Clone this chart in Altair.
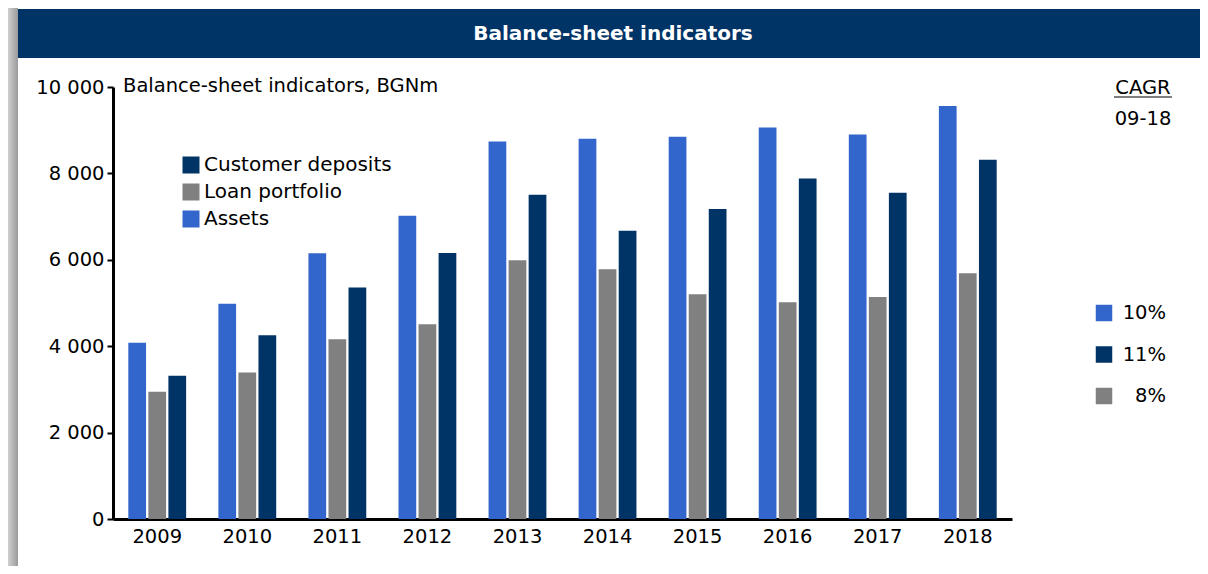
import altair as alt
import pandas as pd

years = ["2009", "2010", "2011", "2012", "2013", "2014", "2015", "2016", "2017", "2018"]
assets = [4080, 4980, 6150, 7020, 8740, 8800, 8850, 9060, 8900, 9560]
loans = [2945, 3390, 4160, 4510, 5990, 5780, 5200, 5020, 5140, 5690]
deposits = [3315, 4255, 5360, 6160, 7505, 6670, 7175, 7880, 7550, 8315]

series_names = ["Assets", "Loan portfolio", "Customer deposits"]
legend_order = ["Customer deposits", "Loan portfolio", "Assets"]
legend_colors = ["#003366", "#808080", "#3366CC"]

cagr_series = ["Assets", "Customer deposits", "Loan portfolio"]
cagr_labels = ["10%", "11%", "8%"]

FONT = "DejaVu Sans"
FS = 19.5

rows = []
for i, y in enumerate(years):
    for name, vals in zip(series_names, [assets, loans, deposits]):
        rows.append({"year": y, "series": name, "value": vals[i]})
df = pd.DataFrame(rows)

cagr_df = pd.DataFrame({"series": cagr_series, "label": cagr_labels})

color = alt.Color(
    "series:N",
    scale=alt.Scale(domain=legend_order, range=legend_colors),
    legend=alt.Legend(
        title=None,
        orient="none",
        legendX=68,
        legendY=68,
        symbolType="square",
        symbolSize=289,
        symbolStrokeWidth=0,
        labelFontSize=20,
        labelFont=FONT,
        labelColor="black",
        labelOffset=3,
        labelLimit=0,
        rowPadding=7,
        padding=0,
    ),
)

bars = alt.Chart(df).mark_bar().encode(
    x=alt.X(
        "year:N",
        sort=years,
        scale=alt.Scale(paddingInner=0.358, paddingOuter=0.17),
        axis=alt.Axis(
            title=None, labelAngle=0, labelFontSize=FS, labelFont=FONT, labelColor="black",
            ticks=False, labelPadding=8, domainColor="black", domainWidth=3,
        ),
    ),
    xOffset=alt.XOffset("series:N", sort=series_names, scale=alt.Scale(paddingInner=0.115)),
    y=alt.Y(
        "value:Q",
        scale=alt.Scale(domain=[0, 10000], nice=False),
        axis=alt.Axis(
            title=None, values=[0, 2000, 4000, 6000, 8000, 10000], grid=False,
            labelFontSize=FS, labelFont=FONT, labelColor="black", labelPadding=3,
            tickColor="black", tickWidth=2, tickSize=6,
            domainColor="black", domainWidth=3,
            labelExpr="replace(format(datum.value, ','), ',', ' ')",
        ),
    ),
    color=color,
)

one = alt.Data(values=[{}])

shadow = alt.Chart(one).mark_rect(
    color=alt.Gradient(
        gradient="linear",
        stops=[alt.GradientStop(color="#d0d0d0", offset=0), alt.GradientStop(color="#9a9a9a", offset=1)],
        x1=0, x2=1, y1=0, y2=0,
    )
).encode(x=alt.value(-105), x2=alt.value(-95), y=alt.value(-79), y2=alt.value(479))

band = alt.Chart(one).mark_rect(color="#003366").encode(
    x=alt.value(-95), x2=alt.value(1087), y=alt.value(-78), y2=alt.value(-29)
)

title = alt.Chart(one).mark_text(
    text="Balance-sheet indicators", color="white", font=FONT, fontSize=20, fontWeight="bold",
    align="center", baseline="middle",
).encode(x=alt.value(500), y=alt.value(-53))

subtitle = alt.Chart(one).mark_text(
    text="Balance-sheet indicators, BGNm", color="black", font=FONT, fontSize=FS,
    align="left", baseline="middle",
).encode(x=alt.value(10), y=alt.value(-1))

cagr_title = alt.Chart(one).mark_text(
    text="CAGR", color="black", font=FONT, fontSize=FS, align="center", baseline="middle",
).encode(x=alt.value(1030), y=alt.value(1))

cagr_under = alt.Chart(one).mark_rule(color="black", strokeWidth=1.2).encode(
    x=alt.value(1001), x2=alt.value(1059), y=alt.value(10)
)

cagr_period = alt.Chart(one).mark_text(
    text="09-18", color="black", font=FONT, fontSize=FS, align="center", baseline="middle",
).encode(x=alt.value(1030), y=alt.value(32))

cagr_y = alt.Y("series:N", sort=cagr_series, scale=alt.Scale(type="point", range=[226, 309], padding=0), axis=None)

cagr_sq = alt.Chart(cagr_df).mark_square(size=272, opacity=1).encode(
    x=alt.value(991), y=cagr_y, color=alt.Color("series:N", legend=None)
)

cagr_txt = alt.Chart(cagr_df).mark_text(
    font=FONT, fontSize=FS, color="black", align="right", baseline="middle"
).encode(x=alt.value(1053), y=cagr_y, text="label:N")

cagr_layer = alt.layer(cagr_sq, cagr_txt)

chart = alt.layer(
    shadow, band, title, subtitle, cagr_title, cagr_under, cagr_period, bars, cagr_layer
).resolve_scale(y="independent").properties(
    width=899,
    height=432,
    padding={"left": 105, "top": 79, "right": 188, "bottom": 47},
    autosize=alt.AutoSizeParams(type="none"),
    background="white",
).configure(font=FONT).configure_view(strokeWidth=0, stroke=None)

chart.save("out.html", embed_options={"renderer": "svg", "actions": False})
